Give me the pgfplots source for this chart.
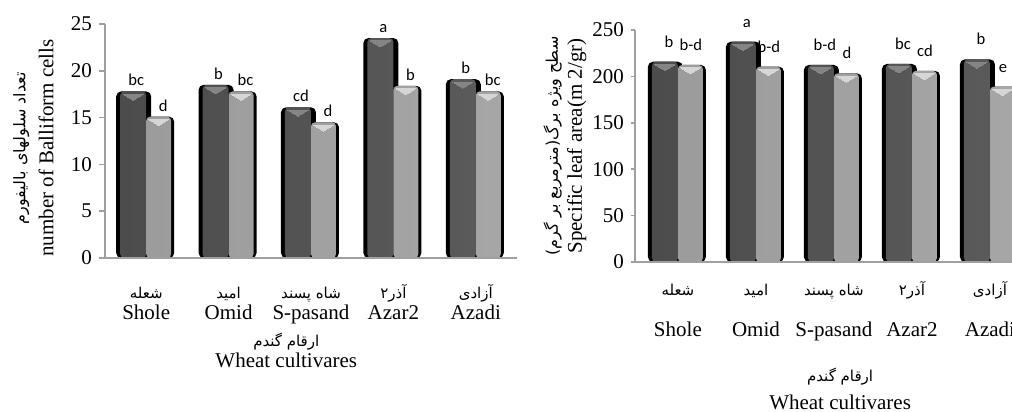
\documentclass[border=0pt]{standalone}
\usepackage{fontspec}
\setmainfont{Liberation Serif}
\newfontfamily\fa[Script=Arabic]{DejaVu Sans}
\newfontfamily\lt{Carlito}
\usepackage{pgfplots}
\pgfplotsset{compat=1.18}
\TeXXeTstate=1
\newcommand{\fs}{\fa\fontsize{7.5}{9}\selectfont\rule[-3.5pt]{0pt}{11pt}}
\newcommand{\es}{\rule[-2.5pt]{0pt}{9.5pt}}
\definecolor{axgray}{HTML}{A0A0A0}
\definecolor{dkL}{HTML}{4C4C4C}
\definecolor{dkM}{HTML}{6E6E6E}
\definecolor{dkR}{HTML}{5A5A5A}
\definecolor{ltL}{HTML}{9C9C9C}
\definecolor{ltM}{HTML}{BEBEBE}
\definecolor{ltR}{HTML}{A6A6A6}
\definecolor{dkTri}{HTML}{858585}
\definecolor{ltTri}{HTML}{D6D6D6}
\pgfplotsset{
 dshadow/.style={ybar, fill=black, draw=none, bar width=17.5pt, bar shift=-6.25pt, rounded corners=2.5pt},
 dbody/.style={ybar, draw=none, left color=dkL, middle color=dkM, right color=dkR, bar width=13pt, bar shift=-6.5pt, rounded corners=2pt},
 lshadow/.style={ybar, fill=black, draw=none, bar width=14pt, bar shift=7pt, rounded corners=2.5pt},
 lbody/.style={ybar, draw=none, left color=ltL, middle color=ltM, right color=ltR, bar width=12.5pt, bar shift=6.25pt, rounded corners=2pt},
 bevel/.style={only marks, color=#1, mark=triangle*, mark size=4pt,
   mark options={draw=#1, fill=#1, line width=0pt, xshift=-6.5pt, yshift=-2.4pt, rotate=180, xscale=1.45, yscale=0.5}},
 lbevel/.style={only marks, color=#1, mark=triangle*, mark size=4pt,
   mark options={draw=#1, fill=#1, line width=0pt, xshift=6.25pt, yshift=-2.4pt, rotate=180, xscale=1.4, yscale=0.5}},
 letters/.style={nodes near coords, point meta=explicit symbolic,
   every node near coord/.append style={font=\lt\fontsize{8.3}{9}\selectfont, text=black, inner sep=1pt, #1}},
 common/.style={
   scale only axis, clip=false, axis on top,
   axis x line*=bottom, axis y line*=left,
   axis line style={draw=axgray, line width=0.75pt},
   xtick={0,1,2,3,4}, xtick style={draw=none},
   ytick style={draw=axgray, line width=0.75pt}, tick align=outside,
   tick label style={font=\fontsize{10.5}{12}\selectfont, text=black},
   /pgf/number format/assume math mode=true,
   xticklabel style={align=center, anchor=north},
   ymin=0,
 },
}
\begin{document}
\begin{tikzpicture}[x=1pt,y=1pt]
\useasboundingbox (0,0) rectangle (506,206);
\clip (0,0) rectangle (506,206);
% ---------------- left panel
\begin{axis}[common,
  at={(52.5pt,77pt)}, anchor=south west,
  width=206pt, height=117pt,
  xmin=-0.5, xmax=4.5, ymax=25,
  ytick={0,5,10,15,20,25}, major tick length=3pt,
  xticklabels={
    {{\fs\beginR شعله\endR}\\[-1.5pt]\es Shole},
    {{\fs\beginR امید\endR}\\[-1.5pt]\es Omid},
    {{\fs\beginR شاه پسند\endR}\\[-1.5pt]\es S-pasand},
    {{\fs\beginR آذر۲\endR}\\[-1.5pt]\es Azar2},
    {{\fs\beginR آزادی\endR}\\[-1.5pt]\es Azadi}},
  xticklabel style={yshift=-6pt},
  xlabel={{\fa\fontsize{7.5}{9}\selectfont\beginR ارقام گندم\endR}\\[-1.5pt]Wheat cultivares},
  xlabel style={at={(axis description cs:0.44,0)}, anchor=north, yshift=-34pt, align=center, font=\fontsize{10.5}{12}\selectfont},
  ylabel={{\fa\fontsize{8}{9}\selectfont\beginR تعداد سلولهای بالیفورم\endR}\\[2pt]number of Balliform cells},
  ylabel style={at={(axis description cs:-0.174,0.47)}, anchor=center, align=center, font=\fontsize{10.5}{12}\selectfont},
]
\addplot[dshadow] coordinates {(0,17.8) (1,18.5) (2,16.1) (3,23.5) (4,19.1)};
\addplot[dbody, letters={yshift=1.5pt, xshift=-5pt}] coordinates {(0,17.8)[bc] (1,18.5)[b] (2,16.1)[cd] (3,23.5)[a] (4,19.1)[b]};
\addplot[bevel=dkTri] coordinates {(0,17.8) (1,18.5) (2,16.1) (3,23.5) (4,19.1)};
\addplot[lshadow] coordinates {(0,15.1) (1,17.8) (2,14.5) (3,18.4) (4,17.8)};
\addplot[lbody, letters={yshift=1.5pt, xshift=8.5pt}] coordinates {(0,15.1)[d] (1,17.8)[bc] (2,14.5)[d] (3,18.4)[b] (4,17.8)[bc]};
\addplot[lbevel=ltTri] coordinates {(0,15.1) (1,17.8) (2,14.5) (3,18.4) (4,17.8)};
\end{axis}
% ---------------- right panel
\begin{axis}[common,
  at={(317.5pt,75pt)}, anchor=south west,
  width=188.5pt, height=116pt,
  xmin=-0.55, xmax=4.283, ymax=250,
  ytick={0,50,100,150,200,250}, major tick length=2pt,
  xticklabels={
    {{\fs\beginR شعله\endR}\\[8.5pt]\es Shole},
    {{\fs\beginR امید\endR}\\[8.5pt]\es Omid},
    {{\fs\beginR شاه پسند\endR}\\[8.5pt]\es S-pasand},
    {{\fs\beginR آذر۲\endR}\\[8.5pt]\es Azar2},
    {{\fs\beginR آزادی\endR}\\[8.5pt]\es Azadi}},
  xticklabel style={yshift=-3.5pt},
  xlabel={{\fa\fontsize{7.5}{9}\selectfont\beginR ارقام گندم\endR}\\[2pt]Wheat cultivares},
  xlabel style={at={(axis description cs:0.544,0)}, anchor=north, yshift=-49.5pt, align=center, font=\fontsize{10.5}{12}\selectfont},
  ylabel={{\fa\fontsize{8}{9}\selectfont\beginR سطح ویژه برگ(مترمربع بر گرم)\endR}\\[0pt]Specific leaf area(m 2/gr)},
  ylabel style={at={(axis description cs:-0.186,0.5)}, anchor=center, align=center, font=\fontsize{10.5}{12}\selectfont},
]
\addplot[dshadow] coordinates {(0,215.8) (1,237.4) (2,212.3) (3,213.4) (4,218.4)};
\addplot[dbody, letters={yshift=6pt, xshift=-4.5pt}] coordinates {(0,215.8)[b] (1,237.4)[a] (2,212.3)[b-d] (3,213.4)[bc] (4,218.4)[b]};
\addplot[bevel=dkTri] coordinates {(0,215.8) (1,237.4) (2,212.3) (3,213.4) (4,218.4)};
\addplot[lshadow] coordinates {(0,212.3) (1,210.5) (2,203.3) (3,206) (4,189)};
\addplot[lbody, letters={yshift=6pt, xshift=6.5pt}] coordinates {(0,212.3)[b-d] (1,210.5)[b-d] (2,203.3)[d] (3,206)[cd] (4,189)[e]};
\addplot[lbevel=ltTri] coordinates {(0,212.3) (1,210.5) (2,203.3) (3,206) (4,189)};
\end{axis}
\end{tikzpicture}
\end{document}
